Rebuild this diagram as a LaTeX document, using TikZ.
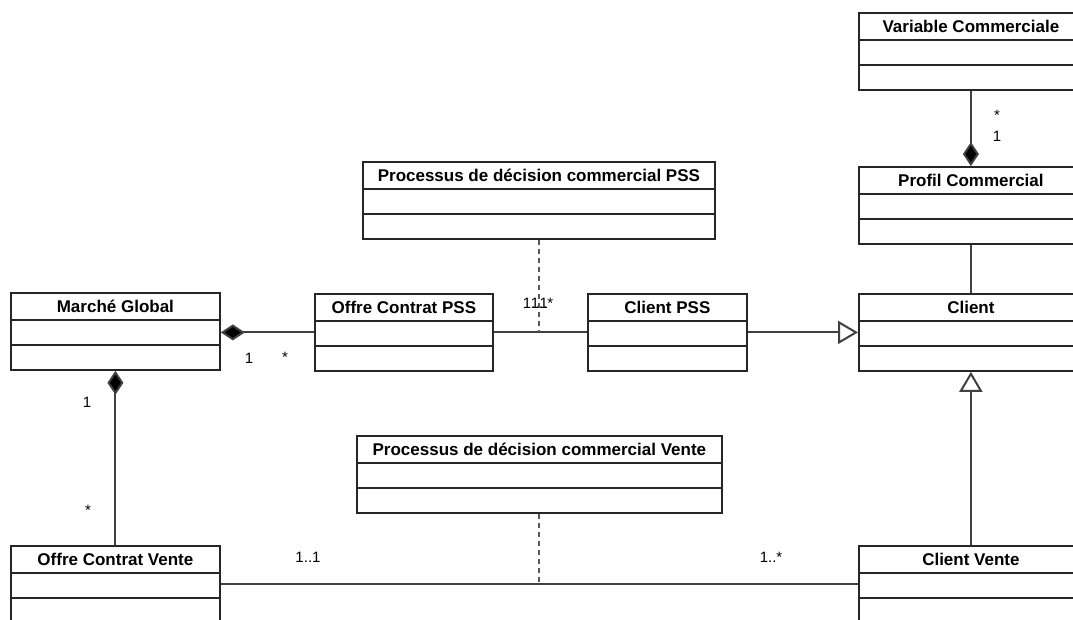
\documentclass[tikz,border=0pt]{standalone}
\usepackage{fontspec}
\setmainfont{Liberation Sans}
\usetikzlibrary{arrows.meta}

\begin{document}
\begin{tikzpicture}[x=1pt,y=-1pt,
    classbox/.style={draw=black!85,line width=1.8pt,inner sep=0pt,
      minimum height=77pt,anchor=north west},
    classtitle/.style={font=\fontsize{17}{20}\selectfont\bfseries,inner sep=0pt},
    mult/.style={font=\fontsize{15}{18}\selectfont,inner sep=0pt},
    assoc/.style={draw=black!75,line width=2pt},
    dashline/.style={draw=black!65,line width=2pt,dash pattern=on 5pt off 4pt},
    compo/.style={assoc,-{Diamond[length=24pt,width=16pt,fill=black]}},
    inherit/.style={assoc,-{Triangle[open,length=20pt,width=23pt,fill=white]}}]
  \useasboundingbox (0,0) rectangle (1073,619);
  \clip (0,0) rectangle (1073,619);
  \newcommand{\umlclass}[5]{%
    \node[classbox,minimum width=#4] (#1) at (#2,#3) {};
    \node[classtitle] (#1-t) at ([yshift=-14pt]#1.north) {#5};
    \draw[black!85,line width=1.8pt]
      ([yshift=-28pt]#1.north west) -- ([yshift=-28pt]#1.north east);
    \draw[black!85,line width=1.8pt]
      ([yshift=-53pt]#1.north west) -- ([yshift=-53pt]#1.north east);
  }
  % classes
  \umlclass{VC}{858}{12}{224pt}{Variable Commerciale}
  \umlclass{PC}{858}{166}{224pt}{Profil Commercial}
  \umlclass{CL}{858}{293}{224pt}{Client}
  \umlclass{CV}{858}{545}{224pt}{Client Vente}
  \umlclass{MG}{10}{292}{209pt}{Marché Global}
  \umlclass{OCP}{314}{293}{178pt}{Offre Contrat PSS}
  \umlclass{CP}{587}{293}{159pt}{Client PSS}
  \umlclass{OCV}{10}{545}{209pt}{Offre Contrat Vente}
  \umlclass{PP}{362}{161}{352pt}{Processus de décision commercial PSS}
  \umlclass{PV}{356}{435}{365pt}{Processus de décision commercial Vente}
  % connectors
  \draw[compo] (VC.south) -- (PC.north);
  \draw[assoc] (PC.south) -- (CL.north);
  \draw[inherit] (CP.east) -- (CL.west);
  \draw[inherit] (CV.north) -- (CL.south);
  \draw[compo] (OCP.west) -- (OCP.west -| MG.east);
  \draw[compo] (OCV.north) -- (MG.south);
  \draw[assoc] (OCP.east) -- (CP.west);
  \draw[assoc] (OCV.east) -- (CV.west);
  \draw[dashline] (PP.south) -- (PP.south |- OCP.east);
  \draw[dashline] (PV.south) -- (PV.south |- OCV.east);
  % multiplicities
  \node[mult] (m1) at (997,115) {*};
  \node[mult] (m2) at (997,136) {1};
  \node[mult] (m3) at (249,358) {1};
  \node[mult] (m4) at (285,357) {*};
  \node[mult] (m5) at (87,402) {1};
  \node[mult] (m6) at (88,510) {*};
  \node[mult] (m7) at (535.5,303) {1..1};
  \node[mult] (m8) at (542,303) {1..*};
  \node[mult] (m9) at (308,557) {1..1};
  \node[mult] (m10) at (771,557) {1..*};
\end{tikzpicture}
\end{document}
